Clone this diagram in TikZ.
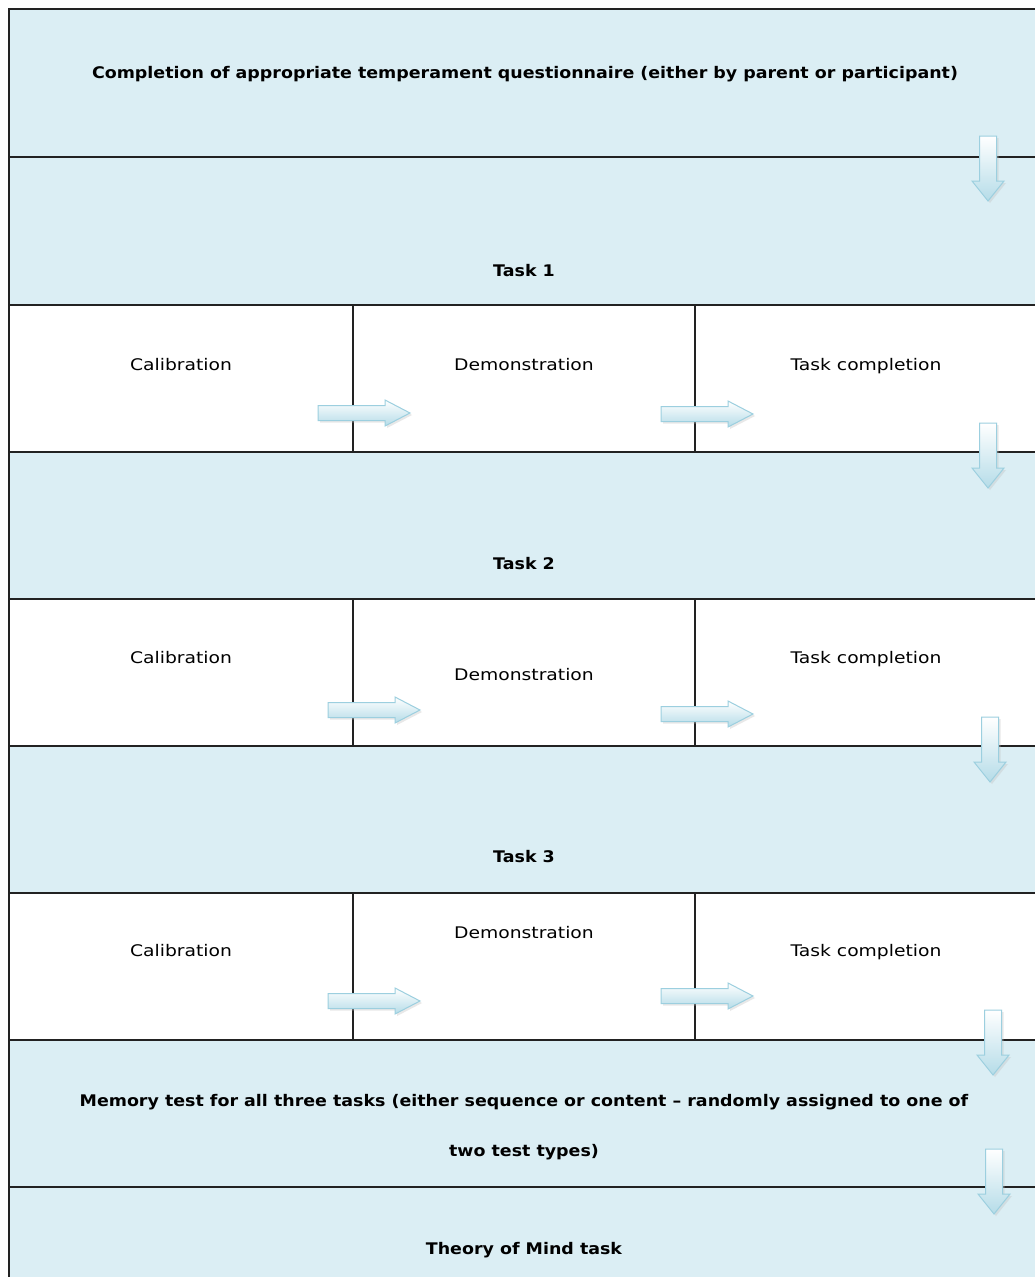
\documentclass[tikz,border=0pt]{standalone}
\usepackage{fontspec}
\setmainfont{DejaVu Sans}
\definecolor{band}{HTML}{DBEEF4}
\definecolor{rule}{HTML}{222222}
\definecolor{arrowedge}{HTML}{9CCFDF}
\definecolor{arrowfill}{HTML}{B5DCE8}
\tikzset{
  frame/.style={draw=rule, line width=1.6pt},
  bandbox/.style={frame, fill=band},
  cellbox/.style={frame, fill=white},
  head/.style={font=\fontsize{16}{19}\selectfont\bfseries\addfontfeatures{FakeStretch=1.09}, anchor=base, inner sep=0pt},
  cell/.style={font=\fontsize{16}{19}\selectfont\addfontfeatures{FakeStretch=1.17}, anchor=base, inner sep=0pt},
  blockarrow/.style={draw=arrowedge, line width=1pt, top color=white, bottom color=arrowfill, line join=miter},
  downarr/.pic={
    \fill[black!25, opacity=.35] (-6.5,-30)--(10.5,-30)--(10.5,15)--(18,15)--(2,35)--(-14,15)--(-6.5,15)--cycle;
    \path[blockarrow] (-8.5,-32)--(8.5,-32)--(8.5,13)--(16,13)--(0,33)--(-16,13)--(-8.5,13)--cycle;
  },
  rightarr/.pic={
    \fill[black!25, opacity=.35] (-44,-5.5)--(23,-5.5)--(23,-11)--(48,2)--(23,15)--(23,9.5)--(-44,9.5)--cycle;
    \path[blockarrow] (-46,-7.5)--(21,-7.5)--(21,-13)--(46,0)--(21,13)--(21,7.5)--(-46,7.5)--cycle;
  }
}
\begin{document}
\begin{tikzpicture}[x=1pt,y=-1pt]
\useasboundingbox (0,0) rectangle (1035,1277);
\clip (0,0) rectangle (1035,1277);

% bands and cells of the procedure
\path[bandbox] (9,9) rectangle (1045,157);
\path[bandbox] (9,157) rectangle (1045,305);
\path[cellbox] (9,305) rectangle (353,452);
\path[cellbox] (353,305) rectangle (695,452);
\path[cellbox] (695,305) rectangle (1045,452);
\path[bandbox] (9,452) rectangle (1045,599);
\path[cellbox] (9,599) rectangle (353,746);
\path[cellbox] (353,599) rectangle (695,746);
\path[cellbox] (695,599) rectangle (1045,746);
\path[bandbox] (9,746) rectangle (1045,893);
\path[cellbox] (9,893) rectangle (353,1040);
\path[cellbox] (353,893) rectangle (695,1040);
\path[cellbox] (695,893) rectangle (1045,1040);
\path[bandbox] (9,1040) rectangle (1045,1187);
\path[bandbox] (9,1187) rectangle (1045,1290);

% labels (positions are baselines)
\node[head] (quest) at (525,78) {Completion of appropriate temperament questionnaire (either by parent or participant)};
\node[head] (t1) at (524,276) {Task 1};
\node[cell] (c1) at (181,370) {Calibration};
\node[cell] (d1) at (524,370) {Demonstration};
\node[cell] (k1) at (866,370) {Task completion};
\node[head] (t2) at (524,569) {Task 2};
\node[cell] (c2) at (181,663) {Calibration};
\node[cell] (d2) at (524,680) {Demonstration};
\node[cell] (k2) at (866,663) {Task completion};
\node[head] (t3) at (524,862) {Task 3};
\node[cell] (c3) at (181,956) {Calibration};
\node[cell] (d3) at (524,938) {Demonstration};
\node[cell] (k3) at (866,956) {Task completion};
\node[head] (mem1) at (524,1106) {Memory test for all three tasks (either sequence or content -- randomly assigned to one of};
\node[head] (mem2) at (524,1156) {two test types)};
\node[head] (tom) at (524,1254) {Theory of Mind task};

% block arrows between stages
\pic at (988,168) {downarr};
\pic at (988,455) {downarr};
\pic at (990,749) {downarr};
\pic at (993,1042) {downarr};
\pic at (994,1181) {downarr};
\pic at (364,413) {rightarr};
\pic at (707,414) {rightarr};
\pic at (374,710) {rightarr};
\pic at (707,714) {rightarr};
\pic at (374,1001) {rightarr};
\pic at (707,996) {rightarr};
\end{tikzpicture}
\end{document}
